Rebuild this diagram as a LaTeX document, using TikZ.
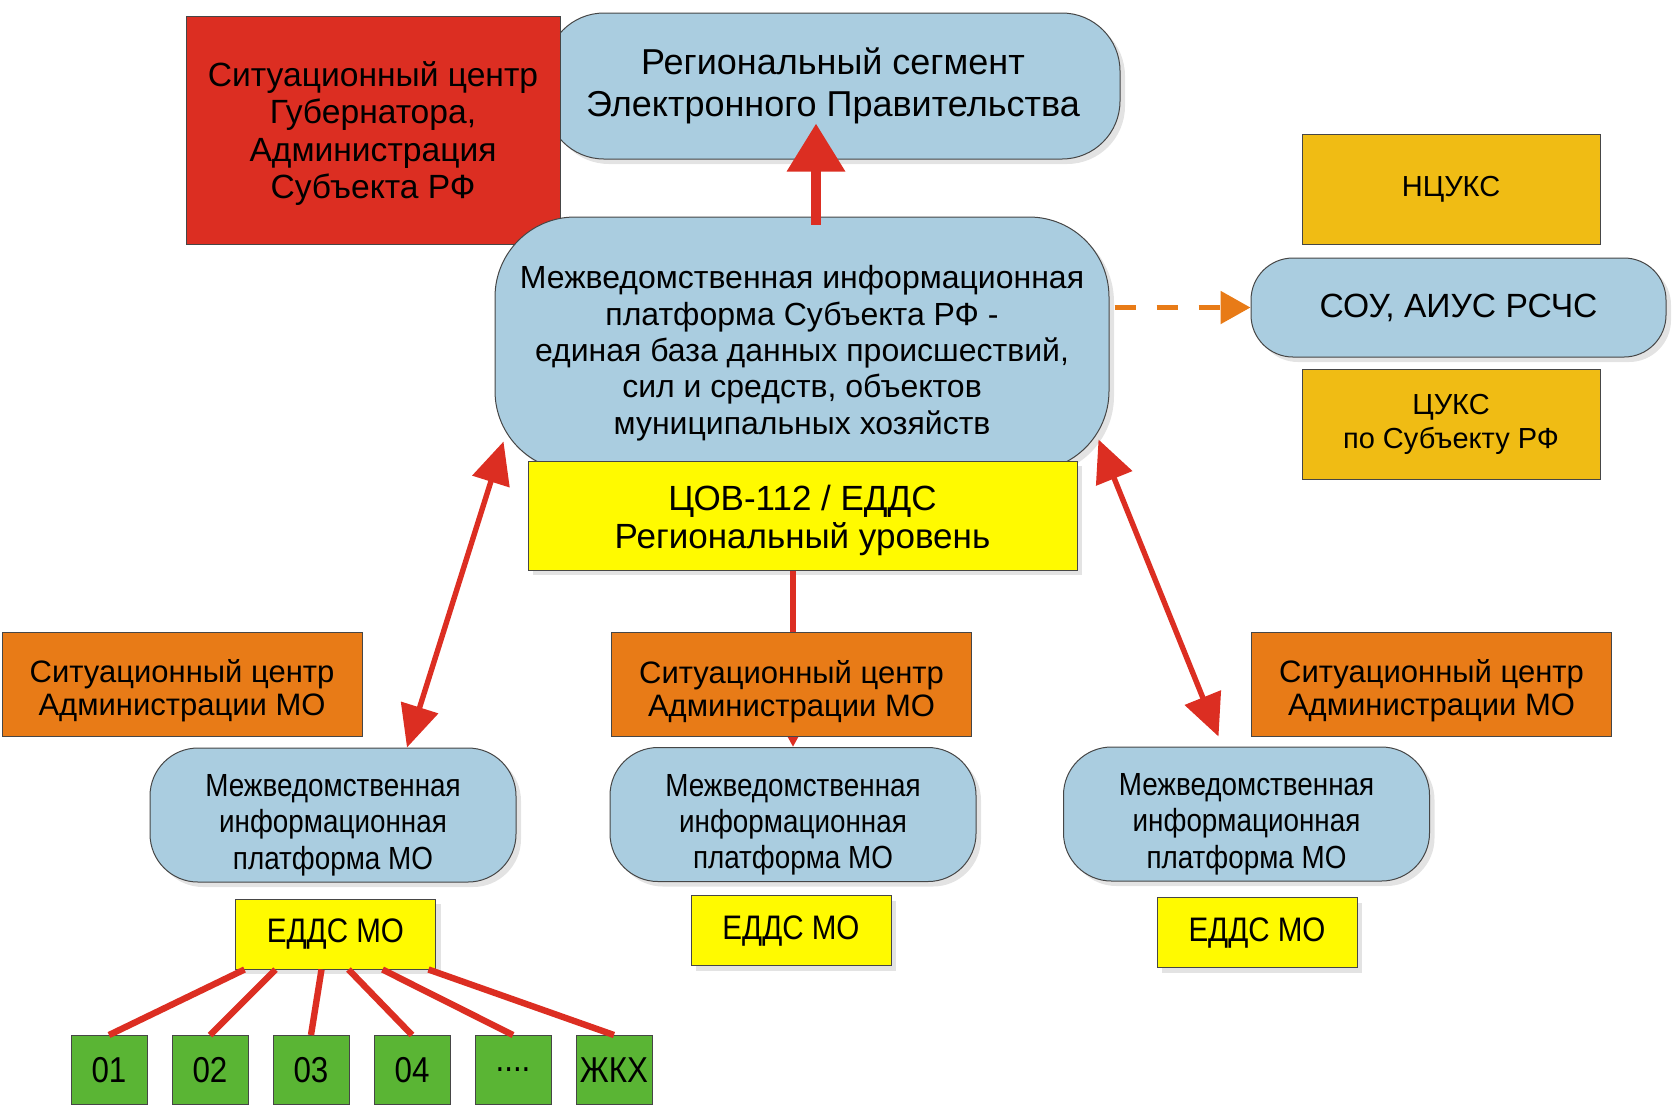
\documentclass[tikz,border=0pt]{standalone}
\usepackage{fontspec}
\setmainfont{Liberation Sans}
\newfontfamily\narrowfont[FakeStretch=0.87]{Liberation Sans}
\usetikzlibrary{positioning,arrows.meta,calc,shadows}
\definecolor{PlatformBlue}{RGB}{170,205,224}
\definecolor{AlarmRed}{RGB}{220,46,34}
\definecolor{SignalYellow}{RGB}{255,250,0}
\definecolor{CentreOrange}{RGB}{232,123,23}
\definecolor{DutyGold}{RGB}{240,188,20}
\definecolor{ServiceGreen}{RGB}{90,181,52}
\definecolor{EdgeGray}{RGB}{70,70,70}
\newcommand{\fourdots}{....}
\tikzset{
  flow/.style={-{Triangle[length=24pt,width=28pt]},line width=5pt,draw=AlarmRed},
  twoway/.style={{Triangle[length=21pt,width=19pt]}-{Triangle[length=21pt,width=19pt]},
    line width=2.7pt,draw=AlarmRed},
  stem/.style={-{Triangle[length=10pt,width=10pt]},line width=2.7pt,draw=AlarmRed},
  branch/.style={line width=3.2pt,draw=AlarmRed},
  dashflow/.style={-{Triangle[length=15pt,width=16pt]},line width=2.7pt,
    dash pattern=on 10.5pt off 10.5pt,draw=CentreOrange},
  platform/.style={draw=EdgeGray,line width=0.5pt,fill=PlatformBlue,inner sep=0pt,align=center,
    drop shadow={opacity=0.22,shadow xshift=2.5pt,shadow yshift=-2.5pt}},
  redbox/.style={draw=EdgeGray,line width=0.5pt,fill=AlarmRed,inner sep=0pt,align=center,
    font=\fontsize{16.8}{18.75}\selectfont},
  yellowbox/.style={draw=EdgeGray,line width=0.5pt,fill=SignalYellow,inner sep=0pt,align=center,
    drop shadow={opacity=0.22,shadow xshift=2.5pt,shadow yshift=-2.5pt}},
  goldbox/.style={draw=EdgeGray,line width=0.5pt,fill=DutyGold,inner sep=0pt,align=center,
    minimum width=149pt,minimum height=55pt,font=\fontsize{14.5}{17}\selectfont},
  orangebox/.style={draw=EdgeGray,line width=0.5pt,fill=CentreOrange,inner sep=0pt,align=center,
    minimum width=180pt,minimum height=52pt,text height=34.9pt,font=\fontsize{15.5}{16.5}\selectfont},
  greenbox/.style={draw=EdgeGray,line width=0.5pt,fill=ServiceGreen,inner sep=0pt,
    minimum width=38pt,minimum height=34.5pt,font=\narrowfont\fontsize{18}{20}\selectfont}
}
\begin{document}
\begin{tikzpicture}[x=0.5pt,y=-0.5pt]
  \useasboundingbox (0,0) rectangle (1680,1105);

  \node[platform,minimum width=287pt,minimum height=73pt,rounded corners=29pt,
    font=\fontsize{18}{21}\selectfont] (egov) at (833,86) {Региональный сегмент\\Электронного Правительства};
  \node[redbox,minimum width=187pt,minimum height=114pt,text height=72.3pt] (gov) at (373,130)
    {Ситуационный центр\\Губернатора,\\Администрация\\Субъекта РФ};
  \node[platform,minimum width=307pt,minimum height=127pt,rounded corners=40pt,text height=93.6pt,
    font=\fontsize{16}{18.2}\selectfont] (main) at (802,344)
    {Межведомственная информационная\\платформа Субъекта РФ -\\единая база данных происшествий,\\сил и средств, объектов\\муниципальных хозяйств};
  \node[yellowbox,minimum width=274.5pt,minimum height=54.5pt,text height=36.4pt,
    font=\fontsize{17.5}{18.75}\selectfont] (cov) at (802.5,515.5) {ЦОВ-112 / ЕДДС\\Региональный уровень};

  \node[goldbox] (ncuks) at (1451,189) {НЦУКС};
  \node[platform,below=6.5pt of ncuks,xshift=3.75pt,minimum width=207.5pt,minimum height=49.5pt,
    rounded corners=21pt,font=\fontsize{16.8}{18}\selectfont] (sou) {СОУ, АИУС РСЧС};
  \node[goldbox,below=5.5pt of sou,xshift=-3.75pt] (cuks) {ЦУКС\\по Субъекту РФ};

  \foreach \n/\mx/\my/\ex/\ey in {l/333/815/335.5/934,m/793/814.5/791/930.5,r/1246.5/814/1257/932.5}{
    \node[platform,minimum width=183pt,minimum height=67pt,rounded corners=24pt,text height=57.6pt,
      font=\narrowfont\fontsize{16}{18.2}\selectfont] (mo\n) at (\mx,\my)
      {Межведомственная\\информационная\\платформа МО};
    \node[yellowbox,minimum width=100pt,minimum height=35pt,
      font=\narrowfont\fontsize{17}{19}\selectfont] (edds\n) at (\ex,\ey) {ЕДДС МО};
  }

  \foreach \lbl [count=\i] in {01,02,03,04,\fourdots,ЖКХ}
    \node[greenbox] (g\i) at ({8+101*\i},1070) {\lbl};

  \draw[flow] ($(main.north)+(14,8)$) -- ($(main.north |- egov.south)+(14,-36)$);
  \draw[dashflow,shorten <=2.5pt] (main.east |- sou.west) -- (sou.west);
  \draw[twoway] ($(main.south west)+(9,-30)$) -- ($(mol.north)+(74,0)$);
  \draw[twoway] ($(main.south east)+(-11,-32)$) -- ($(mor.north)+(-28,-10)$);
  \draw[stem] (cov.south -| mom.north) -- (mom.north);
  \foreach \i/\dx in {1/-91,2/-60,3/-14,4/13,5/47,6/93}
    \draw[branch] ($(eddsl.south)+(\dx,0)$) -- (g\i.north);

  \foreach \n/\sx/\sy in {l/182/684,m/791.5/684.5,r/1431.5/684}
    \node[orangebox] (sc\n) at (\sx,\sy) {Ситуационный центр\\Администрации МО};
\end{tikzpicture}
\end{document}
